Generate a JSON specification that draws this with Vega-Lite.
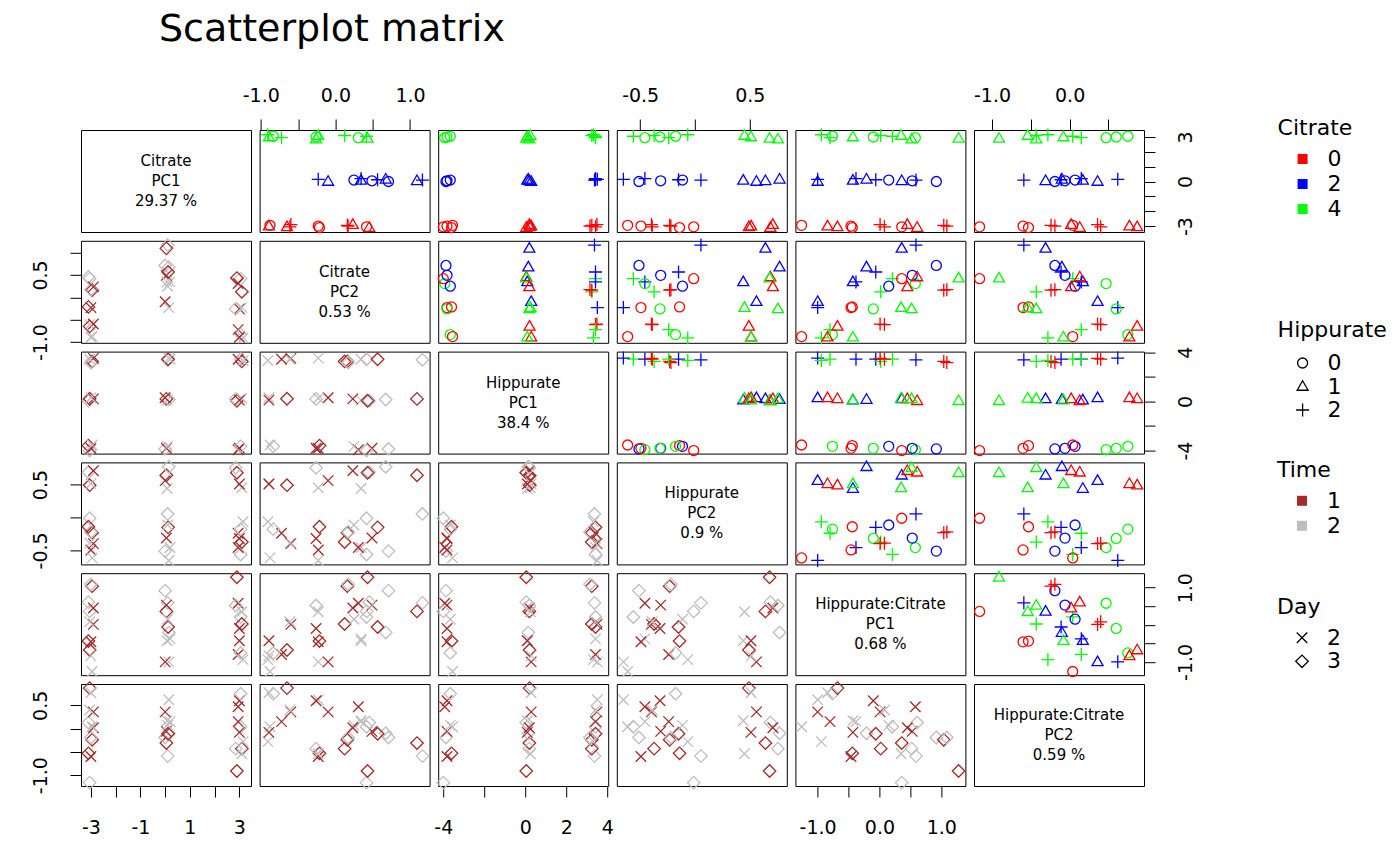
{
"$schema":"https://vega.github.io/schema/vega-lite/v6.json",
"background":"white",
"padding":{"left":30,"top":10,"right":5,"bottom":5},
"title":{"text":"Scatterplot matrix","anchor":"start","frame":"group","dx":78,"offset":37,"font":"DejaVu Sans","fontSize":38,"fontWeight":"normal","color":"black"},
"datasets":{
"pts":[
{"Citrate":"2","Hippurate":"2","Time":"2","Day":"3","C1":0.10,"C2":1.166,"H1":3.38,"H2":0.054,"I1":0.59,"I2":-0.59},
{"Citrate":"2","Hippurate":"1","Time":"1","Day":"3","C1":0.05,"C2":1.093,"H1":0.20,"H2":0.642,"I1":0.36,"I2":-0.31},
{"Citrate":"2","Hippurate":"1","Time":"2","Day":"3","C1":0.15,"C2":0.674,"H1":0.15,"H2":0.771,"I1":-0.21,"I2":-0.10},
{"Citrate":"2","Hippurate":"0","Time":"2","Day":"3","C1":0.00,"C2":0.711,"H1":-3.87,"H2":-0.511,"I1":0.92,"I2":-0.19},
{"Citrate":"4","Hippurate":"2","Time":"2","Day":"3","C1":3.05,"C2":0.417,"H1":3.43,"H2":-0.562,"I1":0.21,"I2":0.04},
{"Citrate":"2","Hippurate":"2","Time":"2","Day":"2","C1":0.20,"C2":0.344,"H1":3.43,"H2":-0.457,"I1":-0.38,"I2":0.15},
{"Citrate":"4","Hippurate":"0","Time":"1","Day":"2","C1":2.95,"C2":0.307,"H1":-3.93,"H2":-0.457,"I1":0.58,"I2":0.47},
{"Citrate":"2","Hippurate":"0","Time":"1","Day":"2","C1":0.05,"C2":0.490,"H1":-3.82,"H2":-0.313,"I1":0.53,"I2":-0.06},
{"Citrate":"2","Hippurate":"2","Time":"1","Day":"3","C1":0.12,"C2":0.565,"H1":3.43,"H2":-0.150,"I1":-0.06,"I2":-0.11},
{"Citrate":"0","Hippurate":"0","Time":"2","Day":"3","C1":-3.05,"C2":0.417,"H1":-4.00,"H2":-0.012,"I1":0.36,"I2":-1.16},
{"Citrate":"4","Hippurate":"2","Time":"1","Day":"3","C1":3.10,"C2":0.123,"H1":3.25,"H2":-0.373,"I1":0.02,"I2":-0.43},
{"Citrate":"0","Hippurate":"2","Time":"1","Day":"3","C1":-2.95,"C2":0.160,"H1":3.25,"H2":-0.231,"I1":1.04,"I2":-0.24},
{"Citrate":"0","Hippurate":"2","Time":"2","Day":"3","C1":-3.00,"C2":0.170,"H1":3.16,"H2":-0.220,"I1":1.09,"I2":-0.19},
{"Citrate":"2","Hippurate":"0","Time":"2","Day":"2","C1":0.10,"C2":0.248,"H1":-3.66,"H2":-0.114,"I1":0.15,"I2":0.07},
{"Citrate":"2","Hippurate":"1","Time":"2","Day":"2","C1":0.08,"C2":0.344,"H1":0.10,"H2":0.440,"I1":-0.43,"I2":0.17},
{"Citrate":"0","Hippurate":"1","Time":"2","Day":"3","C1":-3.10,"C2":0.453,"H1":0.05,"H2":0.687,"I1":0.61,"I2":0.13},
{"Citrate":"4","Hippurate":"1","Time":"1","Day":"3","C1":2.90,"C2":0.430,"H1":0.05,"H2":0.680,"I1":1.28,"I2":-0.91},
{"Citrate":"0","Hippurate":"1","Time":"1","Day":"2","C1":-2.90,"C2":0.233,"H1":0.20,"H2":0.710,"I1":0.45,"I2":0.02},
{"Citrate":"2","Hippurate":"2","Time":"2","Day":"2","C1":0.15,"C2":-0.230,"H1":3.52,"H2":-0.653,"I1":-1.00,"I2":0.62},
{"Citrate":"0","Hippurate":"0","Time":"1","Day":"2","C1":-3.00,"C2":-0.230,"H1":-3.82,"H2":-0.493,"I1":-0.46,"I2":-0.60},
{"Citrate":"4","Hippurate":"0","Time":"1","Day":"2","C1":3.00,"C2":-0.259,"H1":-3.82,"H2":-0.319,"I1":-0.10,"I2":0.60},
{"Citrate":"0","Hippurate":"0","Time":"1","Day":"3","C1":-3.10,"C2":-0.214,"H1":-3.60,"H2":-0.141,"I1":-0.44,"I2":-0.53},
{"Citrate":"2","Hippurate":"1","Time":"1","Day":"2","C1":0.00,"C2":-0.098,"H1":0.29,"H2":0.560,"I1":-1.00,"I2":0.36},
{"Citrate":"4","Hippurate":"1","Time":"2","Day":"2","C1":3.10,"C2":-0.230,"H1":0.25,"H2":0.451,"I1":0.35,"I2":-0.54},
{"Citrate":"4","Hippurate":"1","Time":"2","Day":"3","C1":2.85,"C2":-0.259,"H1":0.20,"H2":0.756,"I1":0.52,"I2":-0.43},
{"Citrate":"0","Hippurate":"2","Time":"1","Day":"2","C1":-2.90,"C2":-0.597,"H1":3.50,"H2":-0.397,"I1":0.01,"I2":0.36},
{"Citrate":"0","Hippurate":"2","Time":"2","Day":"2","C1":-3.05,"C2":-0.610,"H1":3.43,"H2":-0.390,"I1":0.08,"I2":0.40},
{"Citrate":"4","Hippurate":"2","Time":"1","Day":"2","C1":2.95,"C2":-0.722,"H1":3.43,"H2":-0.240,"I1":-0.80,"I2":0.15},
{"Citrate":"4","Hippurate":"0","Time":"2","Day":"3","C1":3.05,"C2":-0.832,"H1":-3.66,"H2":-0.177,"I1":-0.76,"I2":0.75},
{"Citrate":"4","Hippurate":"2","Time":"2","Day":"2","C1":3.15,"C2":-0.906,"H1":3.33,"H2":-0.066,"I1":-0.94,"I2":-0.28},
{"Citrate":"0","Hippurate":"0","Time":"2","Day":"2","C1":-2.95,"C2":-0.877,"H1":-3.55,"H2":-0.614,"I1":-1.26,"I2":0.04},
{"Citrate":"0","Hippurate":"1","Time":"1","Day":"3","C1":-3.05,"C2":-0.649,"H1":0.21,"H2":0.491,"I1":-0.68,"I2":0.87},
{"Citrate":"0","Hippurate":"1","Time":"2","Day":"2","C1":-3.00,"C2":-0.891,"H1":0.29,"H2":0.512,"I1":-0.84,"I2":0.77},
{"Citrate":"4","Hippurate":"1","Time":"1","Day":"2","C1":3.00,"C2":-0.891,"H1":0.10,"H2":0.510,"I1":-0.43,"I2":-0.08}
],
"diag":[
{"v":"C1","line":1,"text":"Citrate"},{"v":"C1","line":2,"text":"PC1"},{"v":"C1","line":3,"text":"29.37 %"},
{"v":"C2","line":1,"text":"Citrate"},{"v":"C2","line":2,"text":"PC2"},{"v":"C2","line":3,"text":"0.53 %"},
{"v":"H1","line":1,"text":"Hippurate"},{"v":"H1","line":2,"text":"PC1"},{"v":"H1","line":3,"text":"38.4 %"},
{"v":"H2","line":1,"text":"Hippurate"},{"v":"H2","line":2,"text":"PC2"},{"v":"H2","line":3,"text":"0.9 %"},
{"v":"I1","line":1,"text":"Hippurate:Citrate"},{"v":"I1","line":2,"text":"PC1"},{"v":"I1","line":3,"text":"0.68 %"},
{"v":"I2","line":1,"text":"Hippurate:Citrate"},{"v":"I2","line":2,"text":"PC2"},{"v":"I2","line":3,"text":"0.59 %"}
]
},
"data":{"name":"pts"},
"columns":6,
"spacing":{"row":8.8,"column":8.6},
"bounds":"flush",
"resolve":{"scale":{"color":"independent","shape":"independent"},"legend":{"color":"independent","shape":"independent"}},
"concat":[
{"width":170,"height":102,"data":{"name":"diag"},"transform":[{"filter":"datum.v == 'C1'"}],"mark":{"type":"text","font":"DejaVu Sans","fontSize":15,"color":"black"},"encoding":{"y":{"field":"line","type":"quantitative","scale":{"domain":[-0.55,4.55],"reverse":true},"axis":null},"text":{"field":"text"}}},
{"width":170,"height":102,"mark":{"type":"point","filled":false,"size":100,"strokeWidth":1.3,"opacity":1},"encoding":{
"x":{"field":"C2","type":"quantitative","scale":{"domain":[-1.016,1.262],"nice":false,"zero":false},"axis":{"orient":"top","title":null,"values":[-1,-0.5,0,0.5,1],"labelExpr":"datum.value == -1 ? '-1.0' : datum.value == 0 ? '0.0' : datum.value == 1 ? '1.0' : ''","labelPadding":14}},
"y":{"field":"C1","type":"quantitative","scale":{"domain":[-3.4,3.47],"nice":false,"zero":false},"axis":null},
"color":{"field":"Citrate","type":"nominal","scale":{"domain":["0","2","4"],"range":["#ff0000","#0000ff","#00ff00"]},"legend":{"title":"Citrate","orient":"none","legendX":1018,"legendY":-12,"symbolType":"square","symbolSize":16,"symbolStrokeWidth":6,"rowPadding":-6.5}},
"shape":{"field":"Hippurate","type":"nominal","scale":{"domain":["0","1","2"],"range":["circle","M0,-1.15L1.1,0.75L-1.1,0.75Z","M-1.3,0L1.3,0M0,-1.3L0,1.3"]},"legend":{"title":"Hippurate","orient":"none","legendX":1018,"legendY":190,"symbolSize":100,"symbolStrokeWidth":1.3,"titlePadding":10}}}},
{"width":170,"height":102,"mark":{"type":"point","filled":false,"size":100,"strokeWidth":1.3,"opacity":1},"encoding":{
"x":{"field":"H1","type":"quantitative","scale":{"domain":[-4.25,4.05],"nice":false,"zero":false},"axis":null},
"y":{"field":"C1","type":"quantitative","scale":{"domain":[-3.4,3.47],"nice":false,"zero":false},"axis":null},
"color":{"field":"Citrate","type":"nominal","scale":{"domain":["0","2","4"],"range":["#ff0000","#0000ff","#00ff00"]},"legend":null},
"shape":{"field":"Hippurate","type":"nominal","scale":{"domain":["0","1","2"],"range":["circle","M0,-1.15L1.1,0.75L-1.1,0.75Z","M-1.3,0L1.3,0M0,-1.3L0,1.3"]},"legend":null}}},
{"width":170,"height":102,"mark":{"type":"point","filled":false,"size":100,"strokeWidth":1.3,"opacity":1},"encoding":{
"x":{"field":"H2","type":"quantitative","scale":{"domain":[-0.713,0.837],"nice":false,"zero":false},"axis":{"orient":"top","title":null,"values":[-0.5,0,0.5],"labelExpr":"datum.value == -0.5 ? '-0.5' : datum.value == 0.5 ? '0.5' : ''","labelPadding":14}},
"y":{"field":"C1","type":"quantitative","scale":{"domain":[-3.4,3.47],"nice":false,"zero":false},"axis":null},
"color":{"field":"Citrate","type":"nominal","scale":{"domain":["0","2","4"],"range":["#ff0000","#0000ff","#00ff00"]},"legend":null},
"shape":{"field":"Hippurate","type":"nominal","scale":{"domain":["0","1","2"],"range":["circle","M0,-1.15L1.1,0.75L-1.1,0.75Z","M-1.3,0L1.3,0M0,-1.3L0,1.3"]},"legend":null}}},
{"width":170,"height":102,"mark":{"type":"point","filled":false,"size":100,"strokeWidth":1.3,"opacity":1},"encoding":{
"x":{"field":"I1","type":"quantitative","scale":{"domain":[-1.36,1.39],"nice":false,"zero":false},"axis":null},
"y":{"field":"C1","type":"quantitative","scale":{"domain":[-3.4,3.47],"nice":false,"zero":false},"axis":null},
"color":{"field":"Citrate","type":"nominal","scale":{"domain":["0","2","4"],"range":["#ff0000","#0000ff","#00ff00"]},"legend":null},
"shape":{"field":"Hippurate","type":"nominal","scale":{"domain":["0","1","2"],"range":["circle","M0,-1.15L1.1,0.75L-1.1,0.75Z","M-1.3,0L1.3,0M0,-1.3L0,1.3"]},"legend":null}}},
{"width":170,"height":102,"mark":{"type":"point","filled":false,"size":100,"strokeWidth":1.3,"opacity":1},"encoding":{
"x":{"field":"I2","type":"quantitative","scale":{"domain":[-1.232,0.958],"nice":false,"zero":false},"axis":{"orient":"top","title":null,"values":[-1,-0.5,0,0.5],"labelExpr":"datum.value == -1 ? '-1.0' : datum.value == 0 ? '0.0' : ''","labelPadding":14}},
"y":{"field":"C1","type":"quantitative","scale":{"domain":[-3.4,3.47],"nice":false,"zero":false},"axis":{"orient":"right","title":null,"values":[-3,-2,-1,0,1,2,3],"labelExpr":"datum.value == 3 ? '3' : datum.value == 0 ? '0' : datum.value == -3 ? '-3' : ''","labelAngle":-90,"labelAlign":"center","labelBaseline":"top","labelPadding":21}},
"color":{"field":"Citrate","type":"nominal","scale":{"domain":["0","2","4"],"range":["#ff0000","#0000ff","#00ff00"]},"legend":null},
"shape":{"field":"Hippurate","type":"nominal","scale":{"domain":["0","1","2"],"range":["circle","M0,-1.15L1.1,0.75L-1.1,0.75Z","M-1.3,0L1.3,0M0,-1.3L0,1.3"]},"legend":null}}},

{"width":170,"height":102,"mark":{"type":"point","filled":false,"size":100,"strokeWidth":1.3,"opacity":1},"encoding":{
"x":{"field":"C1","type":"quantitative","scale":{"domain":[-3.4,3.47],"nice":false,"zero":false},"axis":null},
"y":{"field":"C2","type":"quantitative","scale":{"domain":[-1.016,1.262],"nice":false,"zero":false},"axis":{"orient":"left","title":null,"values":[-1,-0.5,0,0.5,1],"labelExpr":"datum.value == 0.5 ? '0.5' : datum.value == -1 ? '-1.0' : ''","labelAngle":-90,"labelAlign":"center","labelBaseline":"alphabetic","labelPadding":24}},
"color":{"field":"Time","type":"nominal","scale":{"domain":["1","2"],"range":["#a52a2a","#bebebe"]},"legend":{"title":"Time","orient":"none","legendX":1196,"legendY":219,"symbolType":"square","symbolSize":16,"symbolStrokeWidth":6,"rowPadding":-6.5}},
"shape":{"field":"Day","type":"nominal","scale":{"domain":["2","3"],"range":["M-1.05,-1.05L1.05,1.05M-1.05,1.05L1.05,-1.05","M-1.25,0L0,-1.25L1.25,0L0,1.25Z"]},"legend":{"title":"Day","orient":"none","legendX":1196,"legendY":356,"symbolSize":100,"symbolStrokeWidth":1.3}}}},
{"width":170,"height":102,"data":{"name":"diag"},"transform":[{"filter":"datum.v == 'C2'"}],"mark":{"type":"text","font":"DejaVu Sans","fontSize":15,"color":"black"},"encoding":{"y":{"field":"line","type":"quantitative","scale":{"domain":[-0.55,4.55],"reverse":true},"axis":null},"text":{"field":"text"}}},
{"width":170,"height":102,"mark":{"type":"point","filled":false,"size":100,"strokeWidth":1.3,"opacity":1},"encoding":{
"x":{"field":"H1","type":"quantitative","scale":{"domain":[-4.25,4.05],"nice":false,"zero":false},"axis":null},
"y":{"field":"C2","type":"quantitative","scale":{"domain":[-1.016,1.262],"nice":false,"zero":false},"axis":null},
"color":{"field":"Citrate","type":"nominal","scale":{"domain":["0","2","4"],"range":["#ff0000","#0000ff","#00ff00"]},"legend":null},
"shape":{"field":"Hippurate","type":"nominal","scale":{"domain":["0","1","2"],"range":["circle","M0,-1.15L1.1,0.75L-1.1,0.75Z","M-1.3,0L1.3,0M0,-1.3L0,1.3"]},"legend":null}}},
{"width":170,"height":102,"mark":{"type":"point","filled":false,"size":100,"strokeWidth":1.3,"opacity":1},"encoding":{
"x":{"field":"H2","type":"quantitative","scale":{"domain":[-0.713,0.837],"nice":false,"zero":false},"axis":null},
"y":{"field":"C2","type":"quantitative","scale":{"domain":[-1.016,1.262],"nice":false,"zero":false},"axis":null},
"color":{"field":"Citrate","type":"nominal","scale":{"domain":["0","2","4"],"range":["#ff0000","#0000ff","#00ff00"]},"legend":null},
"shape":{"field":"Hippurate","type":"nominal","scale":{"domain":["0","1","2"],"range":["circle","M0,-1.15L1.1,0.75L-1.1,0.75Z","M-1.3,0L1.3,0M0,-1.3L0,1.3"]},"legend":null}}},
{"width":170,"height":102,"mark":{"type":"point","filled":false,"size":100,"strokeWidth":1.3,"opacity":1},"encoding":{
"x":{"field":"I1","type":"quantitative","scale":{"domain":[-1.36,1.39],"nice":false,"zero":false},"axis":null},
"y":{"field":"C2","type":"quantitative","scale":{"domain":[-1.016,1.262],"nice":false,"zero":false},"axis":null},
"color":{"field":"Citrate","type":"nominal","scale":{"domain":["0","2","4"],"range":["#ff0000","#0000ff","#00ff00"]},"legend":null},
"shape":{"field":"Hippurate","type":"nominal","scale":{"domain":["0","1","2"],"range":["circle","M0,-1.15L1.1,0.75L-1.1,0.75Z","M-1.3,0L1.3,0M0,-1.3L0,1.3"]},"legend":null}}},
{"width":170,"height":102,"mark":{"type":"point","filled":false,"size":100,"strokeWidth":1.3,"opacity":1},"encoding":{
"x":{"field":"I2","type":"quantitative","scale":{"domain":[-1.232,0.958],"nice":false,"zero":false},"axis":null},
"y":{"field":"C2","type":"quantitative","scale":{"domain":[-1.016,1.262],"nice":false,"zero":false},"axis":null},
"color":{"field":"Citrate","type":"nominal","scale":{"domain":["0","2","4"],"range":["#ff0000","#0000ff","#00ff00"]},"legend":null},
"shape":{"field":"Hippurate","type":"nominal","scale":{"domain":["0","1","2"],"range":["circle","M0,-1.15L1.1,0.75L-1.1,0.75Z","M-1.3,0L1.3,0M0,-1.3L0,1.3"]},"legend":null}}},

{"width":170,"height":102,"mark":{"type":"point","filled":false,"size":100,"strokeWidth":1.3,"opacity":1},"encoding":{
"x":{"field":"C1","type":"quantitative","scale":{"domain":[-3.4,3.47],"nice":false,"zero":false},"axis":null},
"y":{"field":"H1","type":"quantitative","scale":{"domain":[-4.25,4.05],"nice":false,"zero":false},"axis":null},
"color":{"field":"Time","type":"nominal","scale":{"domain":["1","2"],"range":["#a52a2a","#bebebe"]},"legend":null},
"shape":{"field":"Day","type":"nominal","scale":{"domain":["2","3"],"range":["M-1.05,-1.05L1.05,1.05M-1.05,1.05L1.05,-1.05","M-1.25,0L0,-1.25L1.25,0L0,1.25Z"]},"legend":null}}},
{"width":170,"height":102,"mark":{"type":"point","filled":false,"size":100,"strokeWidth":1.3,"opacity":1},"encoding":{
"x":{"field":"C2","type":"quantitative","scale":{"domain":[-1.016,1.262],"nice":false,"zero":false},"axis":null},
"y":{"field":"H1","type":"quantitative","scale":{"domain":[-4.25,4.05],"nice":false,"zero":false},"axis":null},
"color":{"field":"Time","type":"nominal","scale":{"domain":["1","2"],"range":["#a52a2a","#bebebe"]},"legend":null},
"shape":{"field":"Day","type":"nominal","scale":{"domain":["2","3"],"range":["M-1.05,-1.05L1.05,1.05M-1.05,1.05L1.05,-1.05","M-1.25,0L0,-1.25L1.25,0L0,1.25Z"]},"legend":null}}},
{"width":170,"height":102,"data":{"name":"diag"},"transform":[{"filter":"datum.v == 'H1'"}],"mark":{"type":"text","font":"DejaVu Sans","fontSize":15,"color":"black"},"encoding":{"y":{"field":"line","type":"quantitative","scale":{"domain":[-0.55,4.55],"reverse":true},"axis":null},"text":{"field":"text"}}},
{"width":170,"height":102,"mark":{"type":"point","filled":false,"size":100,"strokeWidth":1.3,"opacity":1},"encoding":{
"x":{"field":"H2","type":"quantitative","scale":{"domain":[-0.713,0.837],"nice":false,"zero":false},"axis":null},
"y":{"field":"H1","type":"quantitative","scale":{"domain":[-4.25,4.05],"nice":false,"zero":false},"axis":null},
"color":{"field":"Citrate","type":"nominal","scale":{"domain":["0","2","4"],"range":["#ff0000","#0000ff","#00ff00"]},"legend":null},
"shape":{"field":"Hippurate","type":"nominal","scale":{"domain":["0","1","2"],"range":["circle","M0,-1.15L1.1,0.75L-1.1,0.75Z","M-1.3,0L1.3,0M0,-1.3L0,1.3"]},"legend":null}}},
{"width":170,"height":102,"mark":{"type":"point","filled":false,"size":100,"strokeWidth":1.3,"opacity":1},"encoding":{
"x":{"field":"I1","type":"quantitative","scale":{"domain":[-1.36,1.39],"nice":false,"zero":false},"axis":null},
"y":{"field":"H1","type":"quantitative","scale":{"domain":[-4.25,4.05],"nice":false,"zero":false},"axis":null},
"color":{"field":"Citrate","type":"nominal","scale":{"domain":["0","2","4"],"range":["#ff0000","#0000ff","#00ff00"]},"legend":null},
"shape":{"field":"Hippurate","type":"nominal","scale":{"domain":["0","1","2"],"range":["circle","M0,-1.15L1.1,0.75L-1.1,0.75Z","M-1.3,0L1.3,0M0,-1.3L0,1.3"]},"legend":null}}},
{"width":170,"height":102,"mark":{"type":"point","filled":false,"size":100,"strokeWidth":1.3,"opacity":1},"encoding":{
"x":{"field":"I2","type":"quantitative","scale":{"domain":[-1.232,0.958],"nice":false,"zero":false},"axis":null},
"y":{"field":"H1","type":"quantitative","scale":{"domain":[-4.25,4.05],"nice":false,"zero":false},"axis":{"orient":"right","title":null,"values":[-4,-2,0,2,4],"labelExpr":"datum.value == 4 ? '4' : datum.value == 0 ? '0' : datum.value == -4 ? '-4' : ''","labelAngle":-90,"labelAlign":"center","labelBaseline":"top","labelPadding":21}},
"color":{"field":"Citrate","type":"nominal","scale":{"domain":["0","2","4"],"range":["#ff0000","#0000ff","#00ff00"]},"legend":null},
"shape":{"field":"Hippurate","type":"nominal","scale":{"domain":["0","1","2"],"range":["circle","M0,-1.15L1.1,0.75L-1.1,0.75Z","M-1.3,0L1.3,0M0,-1.3L0,1.3"]},"legend":null}}},

{"width":170,"height":102,"mark":{"type":"point","filled":false,"size":100,"strokeWidth":1.3,"opacity":1},"encoding":{
"x":{"field":"C1","type":"quantitative","scale":{"domain":[-3.4,3.47],"nice":false,"zero":false},"axis":null},
"y":{"field":"H2","type":"quantitative","scale":{"domain":[-0.713,0.837],"nice":false,"zero":false},"axis":{"orient":"left","title":null,"values":[-0.5,0,0.5],"labelExpr":"datum.value == 0.5 ? '0.5' : datum.value == -0.5 ? '-0.5' : ''","labelAngle":-90,"labelAlign":"center","labelBaseline":"alphabetic","labelPadding":24}},
"color":{"field":"Time","type":"nominal","scale":{"domain":["1","2"],"range":["#a52a2a","#bebebe"]},"legend":null},
"shape":{"field":"Day","type":"nominal","scale":{"domain":["2","3"],"range":["M-1.05,-1.05L1.05,1.05M-1.05,1.05L1.05,-1.05","M-1.25,0L0,-1.25L1.25,0L0,1.25Z"]},"legend":null}}},
{"width":170,"height":102,"mark":{"type":"point","filled":false,"size":100,"strokeWidth":1.3,"opacity":1},"encoding":{
"x":{"field":"C2","type":"quantitative","scale":{"domain":[-1.016,1.262],"nice":false,"zero":false},"axis":null},
"y":{"field":"H2","type":"quantitative","scale":{"domain":[-0.713,0.837],"nice":false,"zero":false},"axis":null},
"color":{"field":"Time","type":"nominal","scale":{"domain":["1","2"],"range":["#a52a2a","#bebebe"]},"legend":null},
"shape":{"field":"Day","type":"nominal","scale":{"domain":["2","3"],"range":["M-1.05,-1.05L1.05,1.05M-1.05,1.05L1.05,-1.05","M-1.25,0L0,-1.25L1.25,0L0,1.25Z"]},"legend":null}}},
{"width":170,"height":102,"mark":{"type":"point","filled":false,"size":100,"strokeWidth":1.3,"opacity":1},"encoding":{
"x":{"field":"H1","type":"quantitative","scale":{"domain":[-4.25,4.05],"nice":false,"zero":false},"axis":null},
"y":{"field":"H2","type":"quantitative","scale":{"domain":[-0.713,0.837],"nice":false,"zero":false},"axis":null},
"color":{"field":"Time","type":"nominal","scale":{"domain":["1","2"],"range":["#a52a2a","#bebebe"]},"legend":null},
"shape":{"field":"Day","type":"nominal","scale":{"domain":["2","3"],"range":["M-1.05,-1.05L1.05,1.05M-1.05,1.05L1.05,-1.05","M-1.25,0L0,-1.25L1.25,0L0,1.25Z"]},"legend":null}}},
{"width":170,"height":102,"data":{"name":"diag"},"transform":[{"filter":"datum.v == 'H2'"}],"mark":{"type":"text","font":"DejaVu Sans","fontSize":15,"color":"black"},"encoding":{"y":{"field":"line","type":"quantitative","scale":{"domain":[-0.55,4.55],"reverse":true},"axis":null},"text":{"field":"text"}}},
{"width":170,"height":102,"mark":{"type":"point","filled":false,"size":100,"strokeWidth":1.3,"opacity":1},"encoding":{
"x":{"field":"I1","type":"quantitative","scale":{"domain":[-1.36,1.39],"nice":false,"zero":false},"axis":null},
"y":{"field":"H2","type":"quantitative","scale":{"domain":[-0.713,0.837],"nice":false,"zero":false},"axis":null},
"color":{"field":"Citrate","type":"nominal","scale":{"domain":["0","2","4"],"range":["#ff0000","#0000ff","#00ff00"]},"legend":null},
"shape":{"field":"Hippurate","type":"nominal","scale":{"domain":["0","1","2"],"range":["circle","M0,-1.15L1.1,0.75L-1.1,0.75Z","M-1.3,0L1.3,0M0,-1.3L0,1.3"]},"legend":null}}},
{"width":170,"height":102,"mark":{"type":"point","filled":false,"size":100,"strokeWidth":1.3,"opacity":1},"encoding":{
"x":{"field":"I2","type":"quantitative","scale":{"domain":[-1.232,0.958],"nice":false,"zero":false},"axis":null},
"y":{"field":"H2","type":"quantitative","scale":{"domain":[-0.713,0.837],"nice":false,"zero":false},"axis":null},
"color":{"field":"Citrate","type":"nominal","scale":{"domain":["0","2","4"],"range":["#ff0000","#0000ff","#00ff00"]},"legend":null},
"shape":{"field":"Hippurate","type":"nominal","scale":{"domain":["0","1","2"],"range":["circle","M0,-1.15L1.1,0.75L-1.1,0.75Z","M-1.3,0L1.3,0M0,-1.3L0,1.3"]},"legend":null}}},

{"width":170,"height":102,"mark":{"type":"point","filled":false,"size":100,"strokeWidth":1.3,"opacity":1},"encoding":{
"x":{"field":"C1","type":"quantitative","scale":{"domain":[-3.4,3.47],"nice":false,"zero":false},"axis":null},
"y":{"field":"I1","type":"quantitative","scale":{"domain":[-1.36,1.39],"nice":false,"zero":false},"axis":null},
"color":{"field":"Time","type":"nominal","scale":{"domain":["1","2"],"range":["#a52a2a","#bebebe"]},"legend":null},
"shape":{"field":"Day","type":"nominal","scale":{"domain":["2","3"],"range":["M-1.05,-1.05L1.05,1.05M-1.05,1.05L1.05,-1.05","M-1.25,0L0,-1.25L1.25,0L0,1.25Z"]},"legend":null}}},
{"width":170,"height":102,"mark":{"type":"point","filled":false,"size":100,"strokeWidth":1.3,"opacity":1},"encoding":{
"x":{"field":"C2","type":"quantitative","scale":{"domain":[-1.016,1.262],"nice":false,"zero":false},"axis":null},
"y":{"field":"I1","type":"quantitative","scale":{"domain":[-1.36,1.39],"nice":false,"zero":false},"axis":null},
"color":{"field":"Time","type":"nominal","scale":{"domain":["1","2"],"range":["#a52a2a","#bebebe"]},"legend":null},
"shape":{"field":"Day","type":"nominal","scale":{"domain":["2","3"],"range":["M-1.05,-1.05L1.05,1.05M-1.05,1.05L1.05,-1.05","M-1.25,0L0,-1.25L1.25,0L0,1.25Z"]},"legend":null}}},
{"width":170,"height":102,"mark":{"type":"point","filled":false,"size":100,"strokeWidth":1.3,"opacity":1},"encoding":{
"x":{"field":"H1","type":"quantitative","scale":{"domain":[-4.25,4.05],"nice":false,"zero":false},"axis":null},
"y":{"field":"I1","type":"quantitative","scale":{"domain":[-1.36,1.39],"nice":false,"zero":false},"axis":null},
"color":{"field":"Time","type":"nominal","scale":{"domain":["1","2"],"range":["#a52a2a","#bebebe"]},"legend":null},
"shape":{"field":"Day","type":"nominal","scale":{"domain":["2","3"],"range":["M-1.05,-1.05L1.05,1.05M-1.05,1.05L1.05,-1.05","M-1.25,0L0,-1.25L1.25,0L0,1.25Z"]},"legend":null}}},
{"width":170,"height":102,"mark":{"type":"point","filled":false,"size":100,"strokeWidth":1.3,"opacity":1},"encoding":{
"x":{"field":"H2","type":"quantitative","scale":{"domain":[-0.713,0.837],"nice":false,"zero":false},"axis":null},
"y":{"field":"I1","type":"quantitative","scale":{"domain":[-1.36,1.39],"nice":false,"zero":false},"axis":null},
"color":{"field":"Time","type":"nominal","scale":{"domain":["1","2"],"range":["#a52a2a","#bebebe"]},"legend":null},
"shape":{"field":"Day","type":"nominal","scale":{"domain":["2","3"],"range":["M-1.05,-1.05L1.05,1.05M-1.05,1.05L1.05,-1.05","M-1.25,0L0,-1.25L1.25,0L0,1.25Z"]},"legend":null}}},
{"width":170,"height":102,"data":{"name":"diag"},"transform":[{"filter":"datum.v == 'I1'"}],"mark":{"type":"text","font":"DejaVu Sans","fontSize":15,"color":"black"},"encoding":{"y":{"field":"line","type":"quantitative","scale":{"domain":[-0.55,4.55],"reverse":true},"axis":null},"text":{"field":"text"}}},
{"width":170,"height":102,"mark":{"type":"point","filled":false,"size":100,"strokeWidth":1.3,"opacity":1},"encoding":{
"x":{"field":"I2","type":"quantitative","scale":{"domain":[-1.232,0.958],"nice":false,"zero":false},"axis":null},
"y":{"field":"I1","type":"quantitative","scale":{"domain":[-1.36,1.39],"nice":false,"zero":false},"axis":{"orient":"right","title":null,"values":[-1,-0.5,0,0.5,1],"labelExpr":"datum.value == 1 ? '1.0' : datum.value == -1 ? '-1.0' : ''","labelAngle":-90,"labelAlign":"center","labelBaseline":"top","labelPadding":21}},
"color":{"field":"Citrate","type":"nominal","scale":{"domain":["0","2","4"],"range":["#ff0000","#0000ff","#00ff00"]},"legend":null},
"shape":{"field":"Hippurate","type":"nominal","scale":{"domain":["0","1","2"],"range":["circle","M0,-1.15L1.1,0.75L-1.1,0.75Z","M-1.3,0L1.3,0M0,-1.3L0,1.3"]},"legend":null}}},

{"width":170,"height":102,"mark":{"type":"point","filled":false,"size":100,"strokeWidth":1.3,"opacity":1},"encoding":{
"x":{"field":"C1","type":"quantitative","scale":{"domain":[-3.4,3.47],"nice":false,"zero":false},"axis":{"orient":"bottom","title":null,"values":[-3,-2,-1,0,1,2,3],"labelExpr":"datum.value == -3 ? '-3' : datum.value == -1 ? '-1' : datum.value == 1 ? '1' : datum.value == 3 ? '3' : ''","labelBaseline":"top","labelPadding":21}},
"y":{"field":"I2","type":"quantitative","scale":{"domain":[-1.232,0.958],"nice":false,"zero":false},"axis":{"orient":"left","title":null,"values":[-1,-0.5,0,0.5],"labelExpr":"datum.value == 0.5 ? '0.5' : datum.value == -1 ? '-1.0' : ''","labelAngle":-90,"labelAlign":"center","labelBaseline":"alphabetic","labelPadding":24}},
"color":{"field":"Time","type":"nominal","scale":{"domain":["1","2"],"range":["#a52a2a","#bebebe"]},"legend":null},
"shape":{"field":"Day","type":"nominal","scale":{"domain":["2","3"],"range":["M-1.05,-1.05L1.05,1.05M-1.05,1.05L1.05,-1.05","M-1.25,0L0,-1.25L1.25,0L0,1.25Z"]},"legend":null}}},
{"width":170,"height":102,"mark":{"type":"point","filled":false,"size":100,"strokeWidth":1.3,"opacity":1},"encoding":{
"x":{"field":"C2","type":"quantitative","scale":{"domain":[-1.016,1.262],"nice":false,"zero":false},"axis":null},
"y":{"field":"I2","type":"quantitative","scale":{"domain":[-1.232,0.958],"nice":false,"zero":false},"axis":null},
"color":{"field":"Time","type":"nominal","scale":{"domain":["1","2"],"range":["#a52a2a","#bebebe"]},"legend":null},
"shape":{"field":"Day","type":"nominal","scale":{"domain":["2","3"],"range":["M-1.05,-1.05L1.05,1.05M-1.05,1.05L1.05,-1.05","M-1.25,0L0,-1.25L1.25,0L0,1.25Z"]},"legend":null}}},
{"width":170,"height":102,"mark":{"type":"point","filled":false,"size":100,"strokeWidth":1.3,"opacity":1},"encoding":{
"x":{"field":"H1","type":"quantitative","scale":{"domain":[-4.25,4.05],"nice":false,"zero":false},"axis":{"orient":"bottom","title":null,"values":[-4,-2,0,2,4],"labelExpr":"datum.value == -4 ? '-4' : datum.value == 0 ? '0' : datum.value == 2 ? '2' : datum.value == 4 ? '4' : ''","labelBaseline":"top","labelPadding":21}},
"y":{"field":"I2","type":"quantitative","scale":{"domain":[-1.232,0.958],"nice":false,"zero":false},"axis":null},
"color":{"field":"Time","type":"nominal","scale":{"domain":["1","2"],"range":["#a52a2a","#bebebe"]},"legend":null},
"shape":{"field":"Day","type":"nominal","scale":{"domain":["2","3"],"range":["M-1.05,-1.05L1.05,1.05M-1.05,1.05L1.05,-1.05","M-1.25,0L0,-1.25L1.25,0L0,1.25Z"]},"legend":null}}},
{"width":170,"height":102,"mark":{"type":"point","filled":false,"size":100,"strokeWidth":1.3,"opacity":1},"encoding":{
"x":{"field":"H2","type":"quantitative","scale":{"domain":[-0.713,0.837],"nice":false,"zero":false},"axis":null},
"y":{"field":"I2","type":"quantitative","scale":{"domain":[-1.232,0.958],"nice":false,"zero":false},"axis":null},
"color":{"field":"Time","type":"nominal","scale":{"domain":["1","2"],"range":["#a52a2a","#bebebe"]},"legend":null},
"shape":{"field":"Day","type":"nominal","scale":{"domain":["2","3"],"range":["M-1.05,-1.05L1.05,1.05M-1.05,1.05L1.05,-1.05","M-1.25,0L0,-1.25L1.25,0L0,1.25Z"]},"legend":null}}},
{"width":170,"height":102,"mark":{"type":"point","filled":false,"size":100,"strokeWidth":1.3,"opacity":1},"encoding":{
"x":{"field":"I1","type":"quantitative","scale":{"domain":[-1.36,1.39],"nice":false,"zero":false},"axis":{"orient":"bottom","title":null,"values":[-1,-0.5,0,0.5,1],"labelExpr":"datum.value == -1 ? '-1.0' : datum.value == 0 ? '0.0' : datum.value == 1 ? '1.0' : ''","labelBaseline":"top","labelPadding":21}},
"y":{"field":"I2","type":"quantitative","scale":{"domain":[-1.232,0.958],"nice":false,"zero":false},"axis":null},
"color":{"field":"Time","type":"nominal","scale":{"domain":["1","2"],"range":["#a52a2a","#bebebe"]},"legend":null},
"shape":{"field":"Day","type":"nominal","scale":{"domain":["2","3"],"range":["M-1.05,-1.05L1.05,1.05M-1.05,1.05L1.05,-1.05","M-1.25,0L0,-1.25L1.25,0L0,1.25Z"]},"legend":null}}},
{"width":170,"height":102,"data":{"name":"diag"},"transform":[{"filter":"datum.v == 'I2'"}],"mark":{"type":"text","font":"DejaVu Sans","fontSize":15,"color":"black"},"encoding":{"y":{"field":"line","type":"quantitative","scale":{"domain":[-0.55,4.55],"reverse":true},"axis":null},"text":{"field":"text"}}}
],
"config":{
"view":{"stroke":"black","strokeWidth":1},
"axis":{"grid":false,"domain":false,"ticks":true,"tickSize":11,"tickColor":"black","tickWidth":1,"labelFont":"DejaVu Sans","labelFontSize":19,"labelColor":"black","labelOverlap":false,"labelFlush":false,"labelBound":false},
"legend":{"titleFont":"DejaVu Sans","titleFontSize":22,"titleFontWeight":"normal","titleColor":"black","labelFont":"DejaVu Sans","labelFontSize":22,"labelColor":"black","symbolBaseStrokeColor":"black","symbolBaseFillColor":"transparent","rowPadding":1.5,"titlePadding":8,"symbolOffset":14,"labelOffset":14}
}
}
